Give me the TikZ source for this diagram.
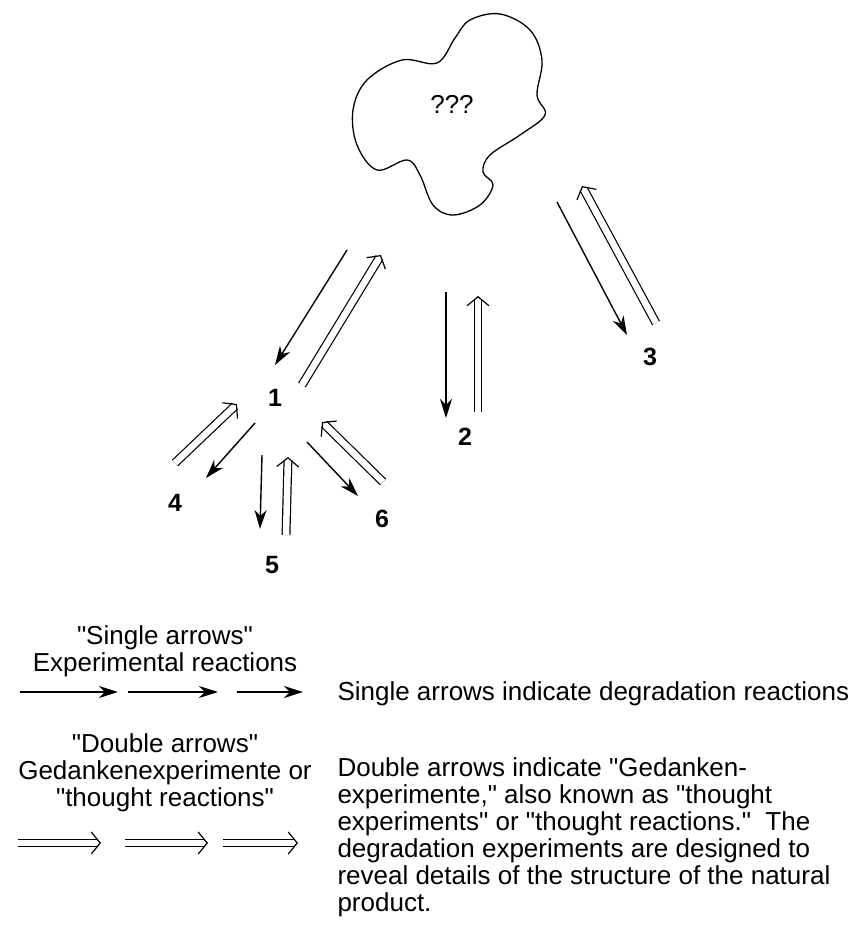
\documentclass[tikz,border=0pt]{standalone}
\usepackage{fontspec}
\setmainfont{Liberation Sans}[Ligatures=TeXOff]
\usetikzlibrary{arrows.meta,positioning}

\begin{document}
\begin{tikzpicture}[x=1pt, y=-1pt,
                    cmpd/.style={font=\fontsize{25}{28}\selectfont\bfseries},
                    txt/.style={font=\fontsize{26}{27}\selectfont, align=center},
                    single/.style={line width=1.4pt,
                    -{Stealth[length=19pt, width=12pt, inset=6pt]}},
                    thought/.style={draw=white, line width=1.2pt,
                    -{Straight Barb[black, length=9pt, width=22pt]},
                    preaction={draw=black, -, double, double distance=6.5pt, shorten >=3pt}},
                ]
                \useasboundingbox (0,0) rectangle (855,926);

                % the unknown natural product
                \draw[line width=1.3pt] plot[smooth cycle, tension=0.6] coordinates {
                    (402,60) (437,63) (455,38) (470,20) (500,14) (530,30) (542,60)
                    (537,95) (545,115) (520,135) (490,155) (483,172) (493,185)
                    (480,205) (453,215) (433,205) (420,175) (407,160) (377,170)
                    (357,145) (353,110) (367,80)};
                \node[txt] (blob) at (452,104) {???};

                \node[cmpd] (c1) at (275,398) {1};
                \node[cmpd] (c2) at (465,437) {2};
                \node[cmpd] (c3) at (650,357) {3};
                \node[cmpd] (c4) at (175,503) {4};
                \node[cmpd] (c5) at (272,565) {5};
                \node[cmpd] (c6) at (382,519) {6};

                % arrow ends
                \coordinate (b1s) at (347,250);  \coordinate (b1e) at (275,365);
                \coordinate (t1s) at (302,385);  \coordinate (t1e) at (381,255);
                \coordinate (b2s) at (446,292);  \coordinate (b2e) at (446,418);
                \coordinate (t2s) at (478,412);  \coordinate (t2e) at (478,296);
                \coordinate (b3s) at (557,202);  \coordinate (b3e) at (627,335);
                \coordinate (t3s) at (656,323);  \coordinate (t3e) at (582,186);
                \coordinate (d4s) at (255,423);  \coordinate (d4e) at (206,478);
                \coordinate (t4s) at (175,463);  \coordinate (t4e) at (237,404);
                \coordinate (d5s) at (262,455);  \coordinate (d5e) at (260,529);
                \coordinate (t5s) at (286,535);  \coordinate (t5e) at (288,457);
                \coordinate (d6s) at (307,442);  \coordinate (d6e) at (358,496);
                \coordinate (t6s) at (383,482);  \coordinate (t6e) at (322,422);

                \draw[single] (b1s) -- (b1e);
                \draw[thought] (t1s) -- (t1e);
                \draw[single] (b2s) -- (b2e);
                \draw[thought] (t2s) -- (t2e);
                \draw[single] (b3s) -- (b3e);
                \draw[thought] (t3s) -- (t3e);
                \draw[single] (d4s) -- (d4e);
                \draw[thought] (t4s) -- (t4e);
                \draw[single] (d5s) -- (d5e);
                \draw[thought] (t5s) -- (t5e);
                \draw[single] (d6s) -- (d6e);
                \draw[thought] (t6s) -- (t6e);

                % legend
                \node[txt] (singlettl) at (165,651) {"Single arrows"\\Experimental reactions};
                \coordinate (s1a) at (20,692);   \coordinate (s1b) at (118,692);
                \coordinate (s2a) at (128,692);  \coordinate (s2b) at (218,692);
                \coordinate (s3a) at (237,692);  \coordinate (s3b) at (303,692);
                \draw[single] (s1a) -- (s1b);
                \draw[single] (s2a) -- (s2b);
                \draw[single] (s3a) -- (s3b);
                \node[txt, anchor=west] (singledesc) at (334,694)
                    {Single arrows indicate degradation reactions};

                \node[txt] (doublettl) at (165,773)
                    {"Double arrows"\\Gedankenexperimente or\\"thought reactions"};
                \coordinate (w1a) at (18,843);   \coordinate (w1b) at (101,843);
                \coordinate (w2a) at (125,843);  \coordinate (w2b) at (208,843);
                \coordinate (w3a) at (223,843);  \coordinate (w3b) at (298,843);
                \draw[thought] (w1a) -- (w1b);
                \draw[thought] (w2a) -- (w2b);
                \draw[thought] (w3a) -- (w3b);
                \node[txt, align=left, anchor=west] (doubledesc) at (334,837)
                    {Double arrows indicate "Gedanken-\\experimente," also known as "thought\\
                    experiments" or "thought reactions."\ \ The\\degradation experiments are designed to\\
                    reveal details of the structure of the natural\\product.};
            \end{tikzpicture}
\end{document}
